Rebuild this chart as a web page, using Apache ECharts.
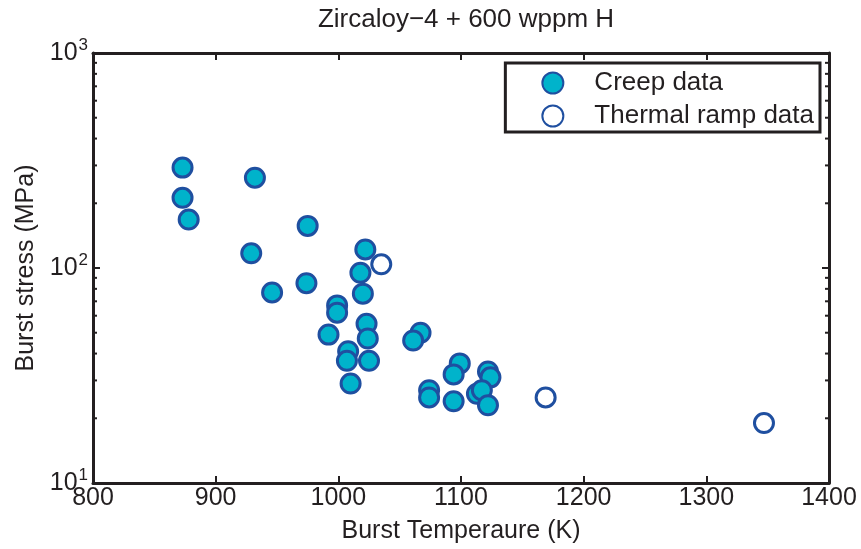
<!DOCTYPE html>
<html>
<head>
<meta charset="utf-8">
<script src="https://cdn.jsdelivr.net/npm/echarts@6/dist/echarts.min.js"></script>
<style>
  html, body { margin: 0; padding: 0; background: #fff; }
  #chart { width: 861px; height: 549px; }
</style>
</head>
<body>
<div id="chart"></div>
<script>
// Burst temperature (K) and burst stress (MPa) for creep tests
const creepTemp = [873, 873, 878, 932, 975, 929, 1022, 1018, 974, 1020, 946, 999, 999, 1023, 992, 1024, 1067, 1061, 1008, 1007, 1025, 1010, 1099, 1094, 1122, 1124, 1074, 1074, 1094, 1113, 1117, 1122];
const creepStress = [293, 212, 168, 263, 157, 117, 122, 95, 85, 76, 77, 67, 62, 55, 49, 47, 50, 46, 41, 37, 37, 29, 36, 32, 33, 31, 27, 25, 24, 26, 27, 23];
// Thermal ramp tests
const thermalTemp = [1035, 1169, 1347];
const thermalStress = [104, 25, 19];

// Axis settings
const xMin = 800, xMax = 1400, xStep = 100;
const yMin = 10, yMax = 1000;
const minorTickVals = [20, 30, 40, 50, 60, 70, 80, 90, 200, 300, 400, 500, 600, 700, 800, 900];

const ink = '#231f20';
const fillColor = '#00b3cb';
const edgeColor = '#1f4fa0';
const font = '"Liberation Sans", Arial, Helvetica, sans-serif';
const fs = 25;

const zip = (a, b) => a.map((v, i) => [v, b[i]]);

const chart = echarts.init(document.getElementById('chart'), null, { renderer: 'canvas' });

const boxAxis = {
  axisLine: { show: true, onZero: false, lineStyle: { color: ink, width: 3 } },
  axisTick: { show: true, inside: true, length: 7, lineStyle: { color: ink, width: 2 } },
  splitLine: { show: false }
};

chart.setOption({
  animation: false,
  backgroundColor: '#fff',
  title: {
    text: 'Zircaloy\u22124 + 600 wppm H',
    left: 461, textAlign: 'center', top: 2,
    textStyle: { fontFamily: font, fontSize: fs + 1, fontWeight: 'normal', color: ink }
  },
  grid: { left: 93, right: 32, top: 53, bottom: 66 },
  legend: {
    orient: 'vertical',
    right: 41, top: 63,
    data: ['Creep data', 'Thermal ramp data'],
    borderColor: ink, borderWidth: 3,
    padding: [7, 6, 3, 36],
    itemGap: 7,
    itemWidth: 21, itemHeight: 21,
    backgroundColor: '#fff',
    textStyle: { fontFamily: font, fontSize: fs + 1, color: ink, padding: [0, 0, 0, 26], lineHeight: 21 }
  },
  xAxis: [
    Object.assign({
      type: 'value', min: xMin, max: xMax, interval: xStep,
      name: 'Burst Temperaure (K)', nameLocation: 'middle', nameGap: 36,
      nameTextStyle: { fontFamily: font, fontSize: fs, color: ink },
      axisLabel: { fontFamily: font, fontSize: fs, color: ink, margin: 3, formatter: v => String(v) }
    }, boxAxis),
    Object.assign({
      type: 'value', min: xMin, max: xMax, interval: xStep, position: 'top',
      axisLabel: { show: false }
    }, boxAxis)
  ],
  yAxis: [
    Object.assign({
      type: 'log', logBase: 10, min: yMin, max: yMax,
      name: 'Burst stress (MPa)', nameLocation: 'middle', nameGap: 53,
      nameTextStyle: { fontFamily: font, fontSize: fs, color: ink },
      axisLabel: {
        margin: 5,
        formatter: v => '{b|10}{s|' + Math.round(Math.log10(v)) + '}',
        rich: {
          b: { fontFamily: font, fontSize: fs, color: ink },
          s: { fontFamily: font, fontSize: 17, color: ink, padding: [0, 0, 16, 1] }
        }
      }
    }, boxAxis),
    Object.assign({
      type: 'log', logBase: 10, min: yMin, max: yMax, position: 'right',
      axisLabel: { show: false }
    }, boxAxis)
  ],
  series: [
    {
      // minor log ticks on the left and right frame edges
      type: 'custom',
      name: 'minor',
      silent: true,
      clip: false,
      xAxisIndex: 0, yAxisIndex: 0,
      data: minorTickVals.map(v => [xMin, v]),
      renderItem: (params, api) => {
        const v = api.value(1);
        const pL = api.coord([xMin, v]);
        const pR = api.coord([xMax, v]);
        const st = { stroke: ink, lineWidth: 2 };
        return {
          type: 'group',
          children: [
            { type: 'line', shape: { x1: pL[0], y1: pL[1], x2: pL[0] + 4, y2: pL[1] }, style: st },
            { type: 'line', shape: { x1: pR[0], y1: pR[1], x2: pR[0] - 4, y2: pR[1] }, style: st }
          ]
        };
      },
      z: 1
    },
    {
      type: 'scatter',
      name: 'Creep data',
      data: zip(creepTemp, creepStress),
      symbol: 'circle',
      symbolSize: 19,
      itemStyle: { color: fillColor, borderColor: edgeColor, borderWidth: 3, opacity: 1 },
      z: 3
    },
    {
      type: 'scatter',
      name: 'Thermal ramp data',
      data: zip(thermalTemp, thermalStress),
      symbol: 'circle',
      symbolSize: 19,
      itemStyle: { color: '#ffffff', borderColor: edgeColor, borderWidth: 3, opacity: 1 },
      z: 4
    }
  ]
});
</script>
</body>
</html>
